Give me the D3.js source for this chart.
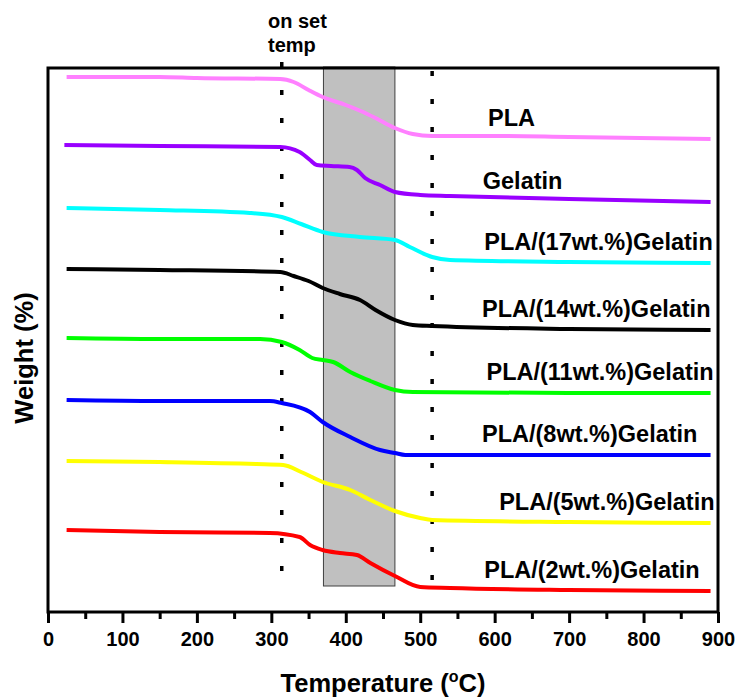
<!DOCTYPE html>
<html>
<head>
<meta charset="utf-8">
<script src="https://cdn.jsdelivr.net/npm/d3@7"></script>
<style>
  body { margin: 0; background: #fff; }
  text { font-family: "Liberation Sans", Arial, sans-serif; font-weight: bold; }
</style>
</head>
<body>
<div id="chart"></div>
<script>
// TGA curves, offset vertically (arbitrary stacked weight units), [temp, value]
const pla     = [[25,535],[150,535],[200,534],[312,533],[330,530],[350,522],[369,515],[400,507],[420,501],[440,494],[466,484],[490,478],[516,476],[600,476],[700,475],[890,473]];
const gelatin = [[22,467],[150,466],[312,465],[338,460],[352,452],[361,447],[380,446],[405,445],[415,442],[426,434],[446,427],[466,420],[500,417],[540,416],[700,413],[890,410]];
const g17     = [[25,404],[150,402],[271,399],[314,395],[340,388],[369,380],[419,375],[466,372],[486,365],[516,355],[540,352],[700,350],[890,349]];
const g14     = [[25,343],[150,342],[312,340],[330,336],[350,331],[369,324],[392,318],[419,312],[440,302],[466,292],[490,287],[516,286],[700,283],[890,282]];
const g11     = [[25,274],[150,273],[285,273],[314,270],[338,262],[355,254],[369,252],[383,250],[406,240],[433,231],[466,222],[490,220],[700,219],[890,219]];
const g8      = [[25,212],[150,211],[298,211],[314,209],[352,200],[369,190],[406,175],[446,162],[466,159],[480,157],[600,157],[890,157]];
const g5      = [[25,151],[150,150],[280,148],[316,147],[340,140],[369,130],[406,122],[433,112],[466,101],[500,94],[516,92],[700,90],[890,89]];
const g2      = [[25,82],[150,80],[298,79],[338,75],[352,67],[369,62],[392,59],[415,57],[433,49],[466,36],[500,25],[540,24],[700,22],[890,21]];

const seriesNames = ["PLA", "Gelatin", "PLA/(17wt.%)Gelatin", "PLA/(14wt.%)Gelatin",
                     "PLA/(11wt.%)Gelatin", "PLA/(8wt.%)Gelatin", "PLA/(5wt.%)Gelatin", "PLA/(2wt.%)Gelatin"];
const seriesData = [pla, gelatin, g17, g14, g11, g8, g5, g2];
const seriesColors = ["#ff80ff", "#9900ff", "#00ffff", "#000000", "#00ff00", "#0000ff", "#ffff00", "#ff0000"];
const labelTemps = [591, 584, 586, 583, 589, 583, 606, 586];

const xTicks = d3.range(0, 901, 100);
const xMinor = d3.range(50, 900, 100);
const shadedRange = [370, 466];     // grey band
const onsetLines = [314, 516];      // dotted verticals

const width = 735, height = 697;
const svg = d3.select("#chart").append("svg")
    .attr("width", width)
    .attr("height", height);

const x = d3.scaleLinear().domain([0, 900]).range([48, 718]);
const y = d3.scaleLinear().domain([0, 545]).range([612, 67]);

// grey band
svg.append("rect")
    .attr("x", x(shadedRange[0]))
    .attr("y", y(545))
    .attr("width", x(shadedRange[1]) - x(shadedRange[0]))
    .attr("height", y(26) - y(545))
    .attr("fill", "#c0c0c0")
    .attr("stroke", "#404040")
    .attr("stroke-width", 1);

// dotted onset lines
const dotTop = [548, 539];
onsetLines.forEach((t, i) => {
  svg.append("line")
      .attr("x1", x(t)).attr("x2", x(t))
      .attr("y1", y(dotTop[i]) - 2).attr("y2", y(dotTop[i] - 504) + 3)
      .attr("stroke", "#000")
      .attr("stroke-width", 3.5)
      .attr("stroke-dasharray", "5,23");
});

// curves
const line = d3.line()
    .x(d => x(d[0]))
    .y(d => y(d[1]))
    .curve(d3.curveMonotoneX);

seriesData.forEach((s, i) => {
  svg.append("path")
      .datum(s)
      .attr("d", line)
      .attr("fill", "none")
      .attr("stroke", seriesColors[i])
      .attr("stroke-width", 4);

  svg.append("text")
      .attr("x", x(labelTemps[i]))
      .attr("y", y(s[s.length - 1][1]) - 13)
      .attr("font-size", 23.5)
      .attr("fill", "#000")
      .text(seriesNames[i]);
});

// frame
svg.append("rect")
    .attr("x", 48).attr("y", 68)
    .attr("width", 670).attr("height", 544)
    .attr("fill", "none")
    .attr("stroke", "#000")
    .attr("stroke-width", 3);

// x axis
const xAxis = svg.append("g")
    .attr("transform", "translate(0,612)")
    .call(d3.axisBottom(x).tickValues(xTicks).tickSize(11).tickPadding(9));
xAxis.select(".domain").remove();
xAxis.selectAll(".tick line").attr("stroke-width", 3);
xAxis.selectAll(".tick text")
    .attr("font-size", 20)
    .attr("font-family", "'Liberation Sans', Arial, sans-serif")
    .attr("font-weight", "bold")
    .attr("fill", "#000");

const xMinorAxis = svg.append("g")
    .attr("transform", "translate(0,612)")
    .call(d3.axisBottom(x).tickValues(xMinor).tickSize(7).tickFormat(""));
xMinorAxis.select(".domain").remove();
xMinorAxis.selectAll(".tick line").attr("stroke-width", 3);

// axis titles
const xTitle = svg.append("text")
    .attr("x", 383).attr("y", 692)
    .attr("text-anchor", "middle")
    .attr("font-size", 25.5);
xTitle.append("tspan").text("Temperature (");
xTitle.append("tspan").attr("font-size", 16).attr("dy", -10).text("o");
xTitle.append("tspan").attr("dy", 10).text("C)");

svg.append("text")
    .attr("transform", "translate(33,358) rotate(-90)")
    .attr("text-anchor", "middle")
    .attr("font-size", 25.5)
    .text("Weight (%)");

// onset annotation
svg.append("text").attr("x", 268).attr("y", 28).attr("font-size", 20).text("on set");
svg.append("text").attr("x", 268).attr("y", 52).attr("font-size", 20).text("temp");
</script>
</body>
</html>
